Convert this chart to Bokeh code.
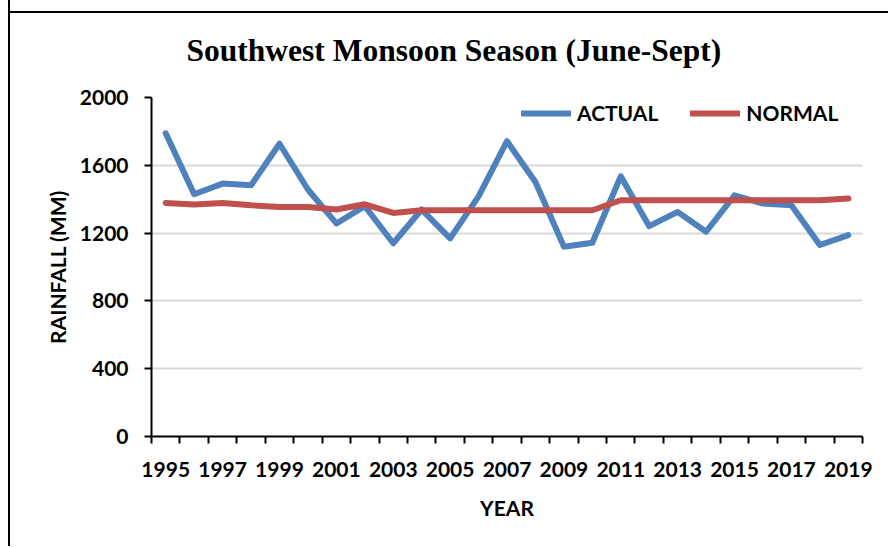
from bokeh.plotting import figure
from bokeh.models import ColumnDataSource, FixedTicker, Legend, LegendItem, Range1d
from bokeh.embed import file_html
from bokeh.resources import INLINE

years = list(range(1995, 2020))
actual = [1789, 1429, 1492, 1482, 1727, 1457, 1257, 1359, 1140, 1339, 1169, 1417, 1742,
          1501, 1120, 1143, 1535, 1241, 1325, 1208, 1423, 1374, 1364, 1130, 1188]
normal = [1378, 1369, 1378, 1364, 1354, 1354, 1339, 1370, 1319, 1335, 1335, 1335, 1335,
          1335, 1335, 1335, 1394, 1394, 1394, 1394, 1394, 1394, 1394, 1394, 1404]
y_ticks = [0, 400, 800, 1200, 1600, 2000]
x_label_years = list(range(1995, 2020, 2))

FONT = "Lato"
BLUE = "#4F81BD"
RED = "#C0504D"

src = ColumnDataSource(dict(year=years, actual=actual, normal=normal))

p = figure(width=880, height=546, output_backend="svg", toolbar_location=None,
           x_range=Range1d(years[0] - 0.5, years[-1] + 0.5),
           y_range=Range1d(0, 2000),
           min_border_left=141, min_border_right=28, min_border_top=96, min_border_bottom=110)
p.styles = {"margin-left": "8px", "margin-top": "0px",
            "border-left": "2px solid black",
            "background": "linear-gradient(#000, #000) 0 11px / 100% 2px no-repeat, #fff"}

p.title.text = "Southwest Monsoon Season (June-Sept)"
p.title.text_font = "Liberation Serif"
p.title.text_font_size = "31.5px"
p.title.text_font_style = "bold"
p.title.text_color = "#000000"
p.title.align = "left"
p.title.offset = 35
p.title.vertical_align = "bottom"
p.title.standoff = 60

p.outline_line_color = None
p.background_fill_color = "white"
p.border_fill_alpha = 0

# y axis
ya = p.yaxis[0]
ya.ticker = FixedTicker(ticks=y_ticks)
ya.axis_label = "RAINFALL (MM)"
ya.axis_line_width = 2
ya.axis_line_color = "black"
ya.major_tick_line_width = 2
ya.major_tick_in = 0
ya.major_tick_out = 7
ya.minor_tick_line_color = None
ya.major_label_standoff = 16
ya.axis_label_standoff = 7

# x axis
xa = p.xaxis[0]
xa.ticker = FixedTicker(ticks=x_label_years, minor_ticks=[y - 0.5 for y in years] + [years[-1] + 0.5])
xa.axis_label = "YEAR"
xa.axis_line_width = 2
xa.axis_line_color = "black"
xa.major_tick_line_color = None
xa.major_tick_in = 0
xa.major_tick_out = 0
xa.minor_tick_line_width = 2
xa.minor_tick_line_color = "black"
xa.minor_tick_in = 0
xa.minor_tick_out = 7
xa.major_label_standoff = 18
xa.axis_label_standoff = 15

for ax in (xa, ya):
    ax.major_label_text_font = FONT
    ax.major_label_text_font_size = "21px"
    ax.major_label_text_font_style = "bold"
    ax.major_label_text_color = "#000000"
    ax.axis_label_text_font = FONT
    ax.axis_label_text_font_size = "21px"
    ax.axis_label_text_font_style = "bold"
    ax.axis_label_text_color = "#000000"

p.xgrid.grid_line_color = None
p.ygrid.ticker = FixedTicker(ticks=y_ticks)
p.ygrid.grid_line_color = "#d9d9d9"
p.ygrid.grid_line_width = 2

r_act = p.line("year", "actual", source=src, line_color=BLUE, line_width=6,
               line_join="round", line_cap="round")
r_nor = p.line("year", "normal", source=src, line_color=RED, line_width=6,
               line_join="round", line_cap="round")

legend = Legend(items=[LegendItem(label="ACTUAL", renderers=[r_act]),
                       LegendItem(label="NORMAL", renderers=[r_nor])],
                orientation="horizontal", location=(370, 311),
                glyph_width=50, glyph_height=20, label_standoff=6, spacing=32,
                padding=0, margin=0, border_line_color=None, background_fill_alpha=0,
                label_text_font=FONT, label_text_font_size="21px",
                label_text_font_style="bold", label_text_color="#000000")
p.add_layout(legend, "center")

open("out.html", "w").write(file_html(p, INLINE))
